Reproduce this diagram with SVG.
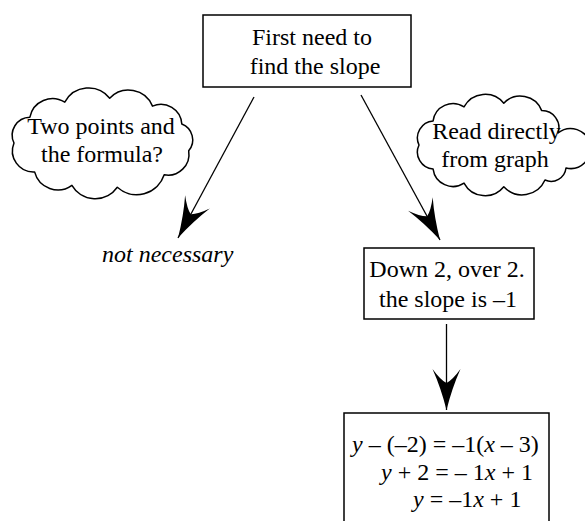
<svg xmlns="http://www.w3.org/2000/svg" width="585" height="521" viewBox="0 0 585 521">
<style>
  .box { fill: #fff; stroke: #000; stroke-width: 1.5; }
  .cloud { fill: #fff; stroke: #000; stroke-width: 1.5; stroke-linejoin: round; }
  .t { font-family: "Liberation Serif", "Times New Roman", serif; font-size: 24px; fill: #000; }
  .c { text-anchor: middle; }
  .i { font-style: italic; }
  .conn { stroke: #000; stroke-width: 1.3; fill: none; marker-end: url(#head); }
</style>
<defs>
  <marker id="head" markerUnits="userSpaceOnUse" viewBox="-44 -16 46 32" markerWidth="46" markerHeight="32" refX="0" refY="0" orient="auto">
    <path d="M0,0 Q-22,-5.5 -41,-14 Q-30,-6 -27,0 Q-30,6 -41,14 Q-22,5.5 0,0 Z" fill="#000"/>
  </marker>
</defs>
<rect width="585" height="521" fill="#fff"/>

<g id="connectors">
  <line class="conn" x1="254" y1="97" x2="178" y2="238"/>
  <line class="conn" x1="361" y1="95" x2="440" y2="240"/>
  <line class="conn" x1="446.5" y1="324" x2="446.5" y2="410"/>
</g>

<g id="start">
  <rect class="box" x="203" y="15" width="208" height="72"/>
  <text class="t c" x="312" y="45">First need to</text>
  <text class="t c" x="315" y="74">find the slope</text>
</g>

<g id="cloud-left">
  <path class="cloud" d="M14,143 A18,18 0 0 1 29.9,117.2 A23,23 0 0 1 64.8,102.2 A27,27 0 0 1 109.7,98.2 A26,26 0 0 1 152.5,106.1 A21,21 0 0 1 181.8,124 A17,17 0 0 1 188.7,150.8 A21,21 0 0 1 164.2,174.8 A29,29 0 0 1 117.3,187.3 A27,27 0 0 1 71.9,185.3 A24,24 0 0 1 34.6,171.9 A21,21 0 0 1 14,143 Z"/>
  <text class="t c" x="101" y="134">Two points and</text>
  <text class="t c" x="102" y="162">the formula?</text>
</g>

<g id="cloud-right">
  <path class="cloud" d="M419,145 A17,17 0 0 1 433.1,120.9 A20,20 0 0 1 464,106.9 A24,24 0 0 1 503.8,103.2 A23,23 0 0 1 541.7,110.6 A17,17 0 0 1 558,133 A20,20 0 1 1 566,168 A15,15 0 0 1 545,180 A25,25 0 0 1 503.8,186.8 A24,24 0 0 1 464,183.1 A20,20 0 0 1 433.1,169.1 A17,17 0 0 1 419,145 Z"/>
  <text class="t c" x="496.5" y="139">Read directly</text>
  <text class="t c" x="495" y="167">from graph</text>
</g>

<g id="not-necessary">
  <text class="t i" x="102" y="262">not necessary</text>
</g>

<g id="slope">
  <rect class="box" x="364" y="248" width="170" height="71"/>
  <text class="t c" x="447" y="277">Down 2, over 2.</text>
  <text class="t c" x="448" y="307">the slope is –1</text>
</g>

<g id="equation">
  <rect class="box" x="344" y="413" width="205" height="130"/>
  <text class="t" x="352" y="452"><tspan class="i">y</tspan> – (–2) = –1(<tspan class="i">x</tspan> – 3)</text>
  <text class="t" x="381" y="480"><tspan class="i">y</tspan> + 2 = – 1<tspan class="i">x</tspan> + 1</text>
  <text class="t" x="413" y="507"><tspan class="i">y</tspan> = –1<tspan class="i">x</tspan> + 1</text>
</g>
</svg>
